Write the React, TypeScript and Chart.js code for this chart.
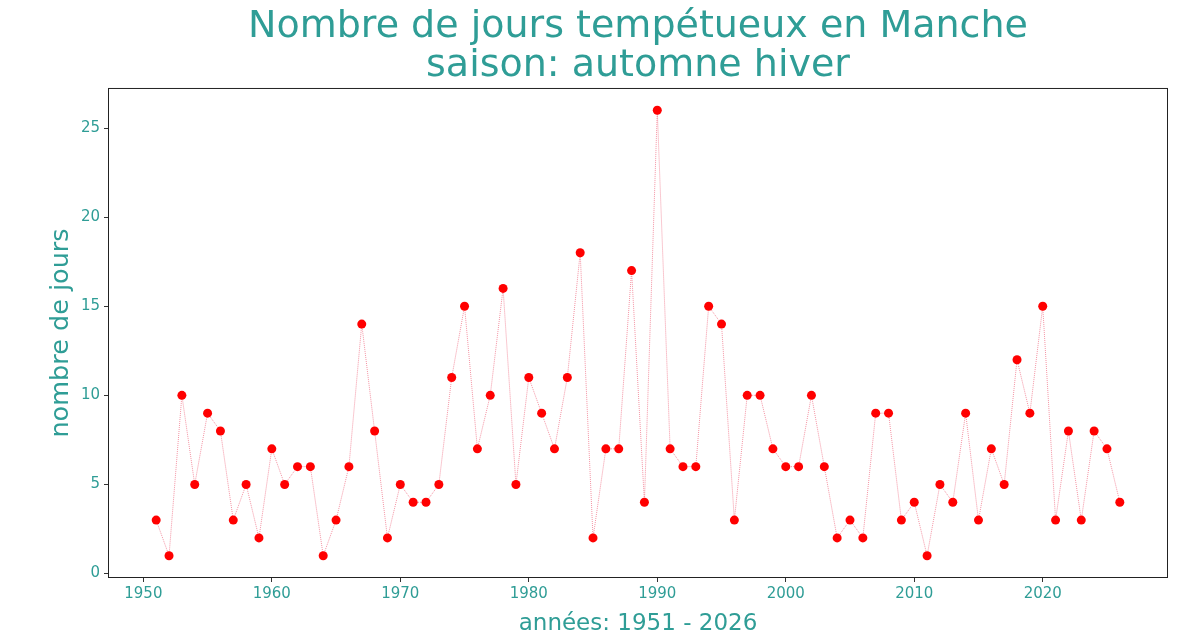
import React, { useEffect, useRef } from "react";
import { Chart, registerables } from "chart.js";

Chart.register(...registerables);

const years: number[] = [];
for (let y = 1951; y <= 2026; y++) years.push(y);

const stormDays: number[] = [
  3, 1, 10, 5, 9, 8, 3, 5, 2, 7,
  5, 6, 6, 1, 3, 6, 14, 8, 2, 5,
  4, 4, 5, 11, 15, 7, 10, 16, 5, 11,
  9, 7, 11, 18, 2, 7, 7, 17, 4, 26,
  7, 6, 6, 15, 14, 3, 10, 10, 7, 6,
  6, 10, 6, 2, 3, 2, 9, 9, 3, 4,
  1, 5, 4, 9, 3, 7, 5, 12, 9, 15,
  3, 8, 3, 8, 7, 4,
];

const xTicks = [1950, 1960, 1970, 1980, 1990, 2000, 2010, 2020];
const yTicks = [0, 5, 10, 15, 20, 25];

const titleLines = ["Nombre de jours tempétueux en Manche", "saison: automne hiver"];
const xTitle = "années: 1951 - 2026";
const yTitle = "nombre de jours";

const TEAL = "#2f9d96";
const FONT = "'DejaVu Sans', 'Open Sans', sans-serif";

export default function App() {
  const ref = useRef<HTMLCanvasElement | null>(null);

  useEffect(() => {
    if (!ref.current) return;
    const frame = {
      id: "frame",
      afterDatasetsDraw(chart: any) {
        const { ctx, chartArea: a } = chart;
        ctx.save();
        ctx.strokeStyle = "#222";
        ctx.lineWidth = 1;
        ctx.strokeRect(a.left + 0.5, a.top + 0.5, a.right - a.left - 1, a.bottom - a.top - 1);
        ctx.restore();
      },
    };
    const chart = new Chart(ref.current, {
      type: "line",
      data: {
        datasets: [
          {
            data: years.map((y, i) => ({ x: y, y: stormDays[i] })),
            borderColor: "rgba(235,60,90,0.55)",
            borderWidth: 1,
            borderDash: [1, 1],
            pointBackgroundColor: "#ff0000",
            pointBorderColor: "#ff0000",
            pointRadius: 4.5,
            pointBorderWidth: 0,
            tension: 0,
          },
        ],
      },
      plugins: [frame],
      options: {
        animation: false,
        responsive: false,
        maintainAspectRatio: false,
        layout: { padding: { left: 0, right: 20, top: 0, bottom: 0 } },
        plugins: {
          legend: { display: false },
          tooltip: { enabled: false },
          title: {
            display: true,
            fullSize: false,
            text: titleLines,
            color: TEAL,
            font: { family: FONT, size: 38, weight: "normal", lineHeight: 1.026 },
            padding: { top: 8, bottom: 2 },
          },
        },
        scales: {
          x: {
            type: "linear",
            min: 1947.25,
            max: 2029.75,
            afterBuildTicks: (s: any) => {
              s.ticks = xTicks.map((v) => ({ value: v }));
            },
            afterFit: (s: any) => {
              s.height = 60;
            },
            grid: { drawOnChartArea: false, drawTicks: true, tickLength: 4, tickColor: "#333" },
            border: { display: false },
            ticks: {
              color: TEAL,
              font: { family: FONT, size: 15 },
              padding: 3,
              maxRotation: 0,
              autoSkip: false,
              callback: (v: any) => String(v),
            },
            title: {
              display: true,
              text: xTitle,
              color: TEAL,
              font: { family: FONT, size: 23 },
              padding: { top: 2, bottom: 0 },
            },
          },
          y: {
            type: "linear",
            min: -0.25,
            max: 27.25,
            afterBuildTicks: (s: any) => {
              s.ticks = yTicks.map((v) => ({ value: v }));
            },
            afterFit: (s: any) => {
              s.width = 108;
            },
            grid: { drawOnChartArea: false, drawTicks: true, tickLength: 4, tickColor: "#333" },
            border: { display: false },
            ticks: {
              color: TEAL,
              font: { family: FONT, size: 15 },
              padding: 4,
              autoSkip: false,
            },
            title: {
              display: true,
              text: yTitle,
              color: TEAL,
              font: { family: FONT, size: 25.5 },
              padding: { top: 46, bottom: 0 },
            },
          },
        },
      },
    } as any);
    return () => chart.destroy();
  }, []);

  return (
    <div style={{ position: "fixed", left: 0, top: 0, width: 1188, height: 638, background: "#fff" }}>
      <canvas ref={ref} width={1188} height={638} style={{ width: 1188, height: 638 }} />
    </div>
  );
}
